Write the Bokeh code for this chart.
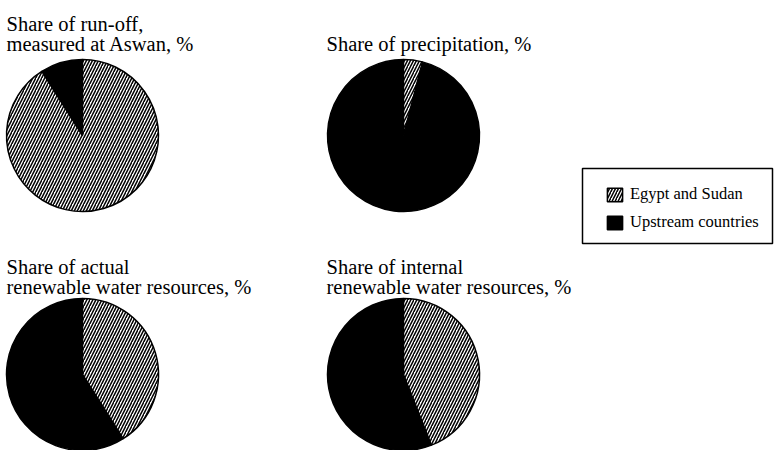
import math
from bokeh.plotting import figure
from bokeh.models import ColumnDataSource, Range1d, Legend, LegendItem, BoxAnnotation
from bokeh.embed import file_html
from bokeh.resources import INLINE
from bokeh.core.properties import value

# ---- data ----
series = ["Egypt and Sudan", "Upstream countries"]
titles = [
    "Share of run-off,\nmeasured at Aswan, %",
    "Share of precipitation, %",
    "Share of actual\nrenewable water resources, %",
    "Share of internal\nrenewable water resources, %",
]
egypt_sudan = [91, 4, 41, 44]
upstream = [9, 96, 59, 56]

# ---- layout ----
W, H = 775, 450
FONT = "Liberation Serif"
cx = [82, 403, 82, 403]
cy = [H - 135, H - 135, H - 374, H - 374]
R = 76
tx = [6, 326, 6, 326]
ty = [H - 43, H - 43, H - 286, H - 286]
LINE = 20

p = figure(width=W, height=H, x_range=Range1d(0, W), y_range=Range1d(0, H),
           output_backend="svg", toolbar_location=None, min_border=0)
p.axis.visible = False
p.grid.visible = False
p.outline_line_color = None
p.background_fill_color = "white"

top = math.pi / 2
h_start, h_end, b_start, b_end = [], [], [], []
for e, u in zip(egypt_sudan, upstream):
    tot = e + u
    ua = 2 * math.pi * u / tot
    b_start.append(top)
    b_end.append(top + ua)
    h_start.append(top + ua)
    h_end.append(top + 2 * math.pi)

src_h = ColumnDataSource(dict(x=cx, y=cy, s=h_start, e=h_end))
src_b = ColumnDataSource(dict(x=cx, y=cy, s=b_start, e=b_end))

r_b = p.wedge(x="x", y="y", radius=R, start_angle="s", end_angle="e", source=src_b,
              direction="anticlock", fill_color="black", line_color="black", line_width=1.5)
r_h = p.wedge(x="x", y="y", radius=R, start_angle="s", end_angle="e", source=src_h,
              direction="anticlock", fill_color="white", line_color="black", line_width=1.5,
              hatch_pattern="/", hatch_color="black", hatch_scale=6, hatch_weight=1.5)

# titles
lx, ly, lt = [], [], []
for i, t in enumerate(titles):
    lines = t.split("\n")
    n = len(lines)
    for k, ln in enumerate(lines):
        lx.append(tx[i])
        ly.append(ty[i] + (n - 1 - k) * LINE)
        lt.append(ln)
p.text(x=lx, y=ly, text=lt, text_font=value(FONT), text_font_size="20.5px",
       text_color="black", text_baseline="alphabetic", text_align="left")

# legend frame
p.add_layout(BoxAnnotation(left=582, right=772, top=H - 168, bottom=H - 243,
                           fill_color="white", fill_alpha=1,
                           line_color="black", line_alpha=1, line_width=1.5,
                           level="overlay"))

legend = Legend(items=[LegendItem(label=series[0], renderers=[r_h]),
                       LegendItem(label=series[1], renderers=[r_b])],
                location=(605, H - 232), orientation="vertical",
                label_text_font=FONT, label_text_font_size="16.5px",
                label_text_color="black",
                glyph_width=19, glyph_height=17, label_height=17,
                spacing=8, padding=0, margin=0, label_standoff=6,
                border_line_color=None, background_fill_alpha=0)
p.add_layout(legend)

open("out.html", "w").write(file_html(p, INLINE))
